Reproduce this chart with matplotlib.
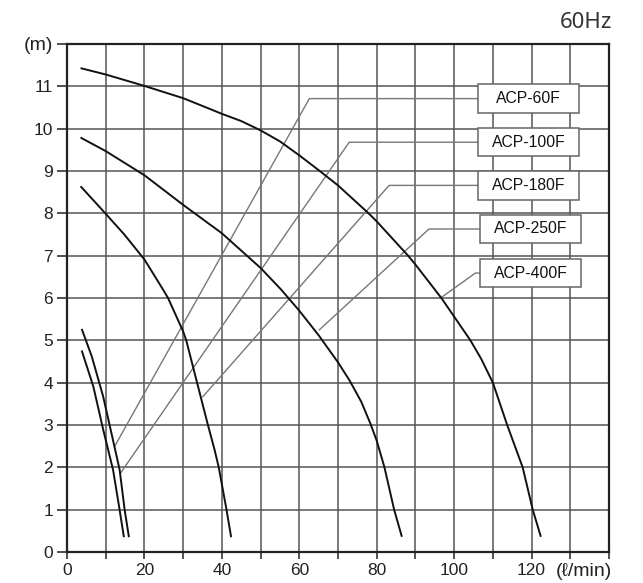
import matplotlib
matplotlib.use("Agg")
import matplotlib.pyplot as plt
from matplotlib.patches import Rectangle

# ---- data (flow l/min, head m) ----
acp400_x = [3.5, 10, 20, 30, 36.8, 40, 45, 50, 55, 60, 65, 70, 77.9, 80, 88.1, 90, 96.7, 104.2, 107, 110, 113.7, 117.7, 120.3, 122.4]
acp400_y = [11.43, 11.28, 11.01, 10.72, 10.47, 10.35, 10.18, 9.96, 9.7, 9.37, 9.02, 8.66, 8.0, 7.81, 7.0, 6.79, 6.0, 5.0, 4.56, 4.0, 3.0, 2.0, 1.0, 0.36]

acp250_x = [3.5, 10, 20, 30, 40, 50, 55.3, 60, 65, 70, 73, 76, 78.3, 80, 82, 84.5, 86.5]
acp250_y = [9.79, 9.47, 8.9, 8.2, 7.53, 6.71, 6.2, 5.7, 5.12, 4.48, 4.05, 3.55, 3.05, 2.63, 2.0, 1.0, 0.36]

acp180_x = [3.5, 9.8, 14.8, 20, 24.8, 26.1, 30, 30.8, 33.6, 36.4, 38.1, 39.2, 40.2, 41.2, 42.4]
acp180_y = [8.64, 8.01, 7.5, 6.91, 6.2, 6.0, 5.21, 5.0, 4.0, 3.0, 2.42, 2.0, 1.5, 1.0, 0.35]

acp100_x = [3.8, 6.4, 9.35, 11.1, 13.6, 14.9, 16.0]
acp100_y = [5.27, 4.62, 3.67, 2.96, 1.94, 0.99, 0.35]

acp60_x = [3.8, 6.8, 9.35, 11.9, 13.6, 14.7]
acp60_y = [4.76, 3.91, 2.89, 1.94, 0.99, 0.35]

labels = ["ACP-60F", "ACP-100F", "ACP-180F", "ACP-250F", "ACP-400F"]
# leader: point on curve -> corner -> box
leader_end_x = [12.4, 13.8, 35.1, 65.2, 96.5]
leader_end_y = [2.51, 1.86, 3.67, 5.25, 6.0]
leader_corner_x = [62.6, 72.9, 83.2, 93.5, 105.5]
label_y = [10.71, 9.68, 8.66, 7.63, 6.59]
box_left = [106.2, 106.2, 106.2, 106.8, 106.8]
box_right = [132.3, 132.3, 132.3, 132.7, 132.7]

x_ticks = [0, 20, 40, 60, 80, 100, 120]
y_ticks = list(range(0, 12))
x_unit = "(ℓ/min)"
y_unit = "(m)"
freq = "60Hz"

# ---- figure ----
fig = plt.figure(figsize=(6.43, 5.83), dpi=100)
ax = fig.add_axes([67 / 643, 31 / 583, 542 / 643, 508 / 583])
ax.set_xlim(0, 140)
ax.set_ylim(0, 12)

grid_c = "#555555"
for gx in range(10, 140, 10):
    ax.axvline(gx, color=grid_c, lw=1.1, zorder=1)
for gy in range(1, 12):
    ax.axhline(gy, color=grid_c, lw=1.1, zorder=1)

for s in ax.spines.values():
    s.set_color("#222222")
    s.set_linewidth(1.6)

for xs, ys in [(acp400_x, acp400_y), (acp250_x, acp250_y), (acp180_x, acp180_y),
               (acp100_x, acp100_y), (acp60_x, acp60_y)]:
    ax.plot(xs, ys, color="#111111", lw=1.4, zorder=3, solid_capstyle="butt",
            solid_joinstyle="round")

for i, lab in enumerate(labels):
    ax.plot([leader_end_x[i], leader_corner_x[i], box_left[i]],
            [leader_end_y[i], label_y[i], label_y[i]],
            color="#777777", lw=1.0, zorder=2)
    h = 0.67
    ax.add_patch(Rectangle((box_left[i], label_y[i] - h / 2), box_right[i] - box_left[i], h,
                           facecolor="white", edgecolor="#666666", lw=1.1, zorder=4))
    ax.text((box_left[i] + box_right[i]) / 2, label_y[i], lab, ha="center", va="center",
            fontsize=11.3, family=["Liberation Sans", "DejaVu Sans"], color="#111111", zorder=5)

ax.set_xticks(range(0, 150, 10))
ax.set_xticklabels([str(t) if t in x_ticks else "" for t in range(0, 150, 10)])
ax.set_yticks(y_ticks + [12])
ax.set_yticklabels([str(t) for t in y_ticks] + [y_unit])
ax.tick_params(axis="both", direction="out", colors="#222222", labelcolor="#222222",
               labelsize=12.5, width=1.1)
ax.tick_params(axis="y", length=7, pad=3)
ax.tick_params(axis="x", length=5, pad=3)
for t in ax.get_xticklabels() + ax.get_yticklabels():
    t.set_family(["Liberation Sans", "DejaVu Sans"])
ax.get_yticklabels()[-1].set_fontsize(14)

ax.text(1.006, -0.022, x_unit, transform=ax.transAxes, ha="right", va="top",
        fontsize=14, family=["Liberation Sans", "DejaVu Sans"], color="#222222")

fig.text(612 / 643, 1 - 22 / 583, freq, ha="right", va="center", fontsize=16,
         family=["Noto Sans", "DejaVu Sans"], color="#333333")

fig.savefig("out.png", dpi=100)
